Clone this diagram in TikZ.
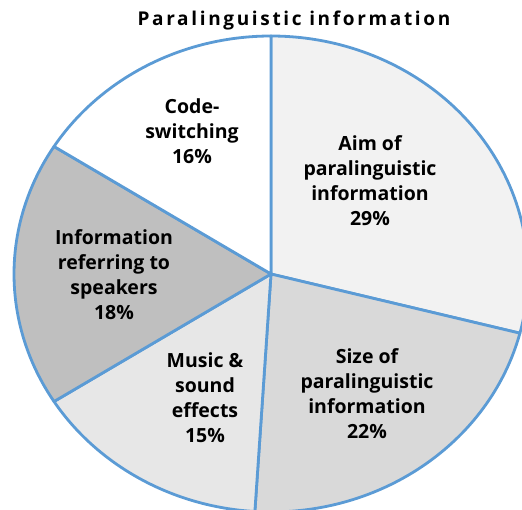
\documentclass[tikz,border=0pt]{standalone}
\usepackage{fontspec}
\setmainfont{Open Sans}
\usepackage{xcolor}
\definecolor{pieblue}{HTML}{5B9BD5}
\definecolor{aimgray}{HTML}{F2F2F2}
\definecolor{sizegray}{HTML}{D9D9D9}
\definecolor{musicgray}{HTML}{E7E7E7}
\definecolor{infogray}{HTML}{BFBFBF}

\begin{document}
\begin{tikzpicture}[x=1pt,y=1pt,
    lbl/.style={align=center,inner sep=0pt,font=\bfseries\fontsize{19.5}{25}\selectfont}]
  \useasboundingbox (-271,-235) rectangle (251,274);
  \clip (-271,-235) rectangle (251,274);

  % Draw slices
  \foreach \a/\b/\c in {90/-14.4/aimgray, -14.4/-93.6/sizegray, -93.6/-147.6/musicgray,
                        -147.6/-212.4/infogray, -212.4/-270/white}
    \filldraw[fill=\c, draw=pieblue, line width=2.8pt, line join=round]
      (0,0) -- (\a:257 and 238) arc[start angle=\a, end angle=\b, x radius=257, y radius=238] -- cycle;

  % Title
  \node[inner sep=0pt,font=\bfseries\fontsize{19}{22}\selectfont\addfontfeatures{LetterSpace=14}]
    (title) at (23,253) {Paralinguistic information};

  % Label the slices
  \node[lbl] (aim) at (99,93.5) {Aim of\\paralinguistic\\information\\29\%};
  \node[lbl] (size) at (96,-119.5) {Size of\\paralinguistic\\information\\22\%};
  \node[lbl] (music) at (-66,-124) {Music \&\\sound\\effects\\15\%};
  \node[lbl] (info) at (-157,-0.5) {Information\\referring to\\speakers\\18\%};
  \node[lbl] (code) at (-79,143) {Code-\\switching\\16\%};
\end{tikzpicture}
\end{document}
